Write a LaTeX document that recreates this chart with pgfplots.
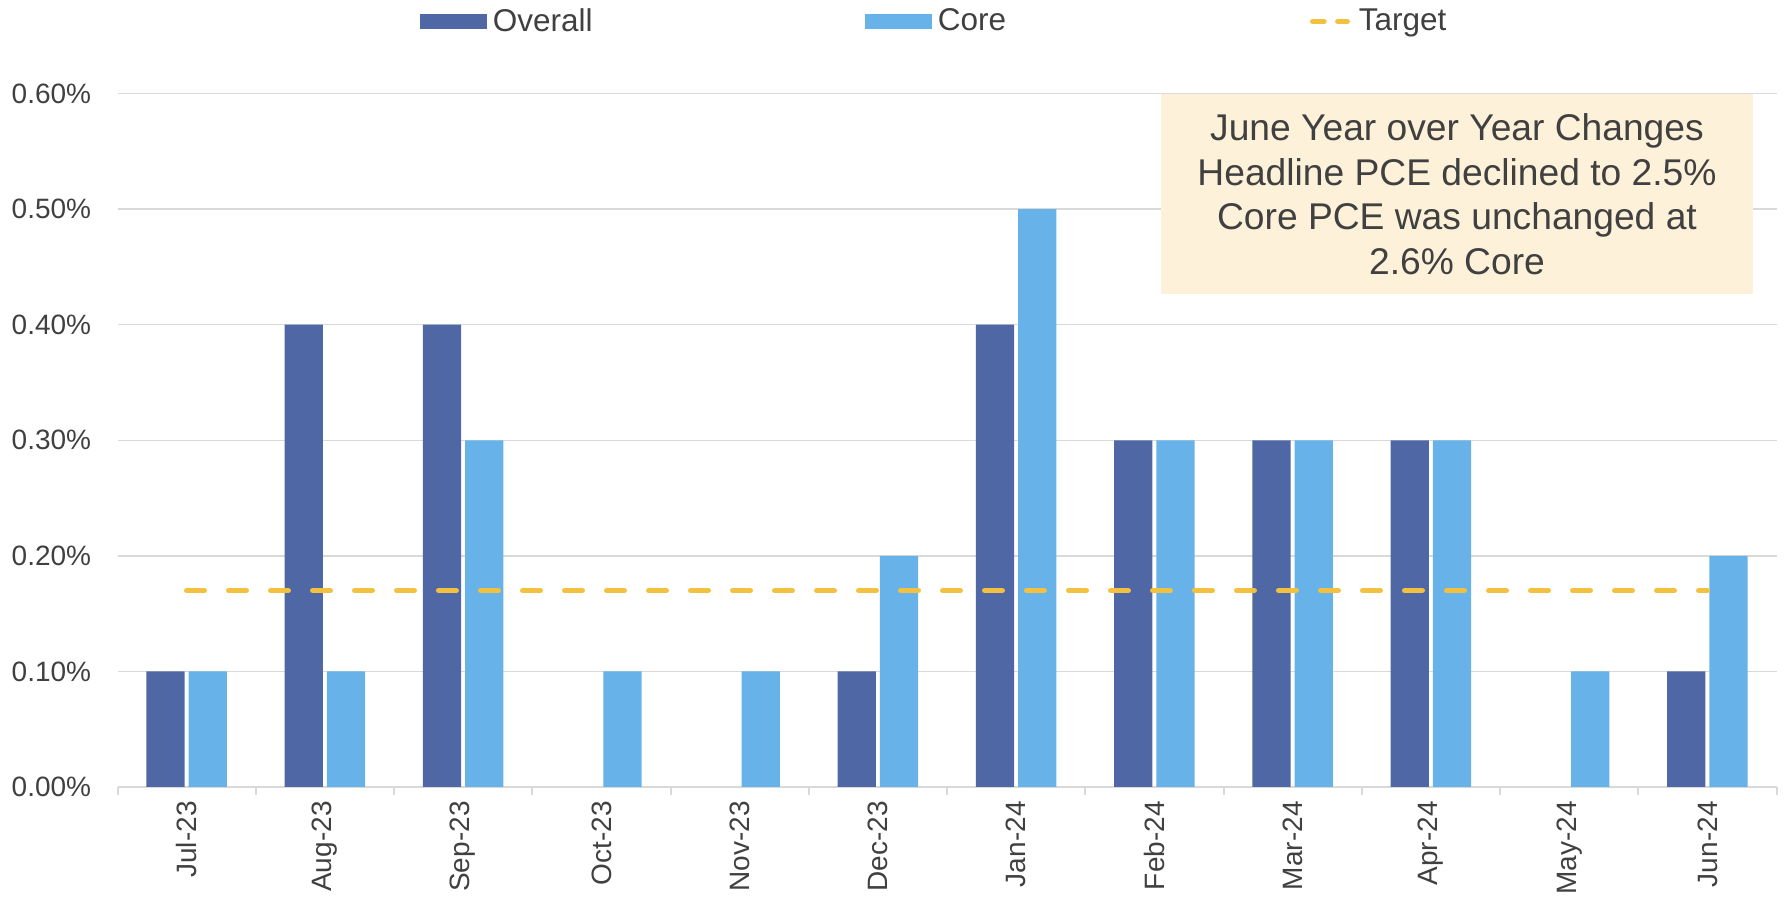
\documentclass[border=0pt]{standalone}
\usepackage{pgfplots}
\pgfplotsset{compat=1.18}
\usepackage{fontspec}
\setmainfont{Liberation Sans}
\definecolor{overall}{HTML}{4F67A5}
\definecolor{core}{HTML}{67B2E8}
\definecolor{target}{HTML}{F2C13F}
\definecolor{boxfill}{HTML}{FDF2D9}
\definecolor{txt}{HTML}{404040}
\definecolor{gridc}{HTML}{D9D9D9}
\begin{document}
\begin{tikzpicture}
\path[use as bounding box] (0,0) rectangle (894.5pt,448.5pt);
\begin{axis}[
  at={(58.75pt,55pt)}, anchor=south west, scale only axis,
  width=829.5pt, height=346.7pt,
  xmin=-0.5, xmax=11.5, ymin=0, ymax=0.6,
  axis x line*=bottom, axis y line*=left,
  y axis line style={draw=none},
  x axis line style={draw=gridc, line width=1pt},
  xtick={0,1,2,3,4,5,6,7,8,9,10,11},
  xticklabels={Jul-23,Aug-23,Sep-23,Oct-23,Nov-23,Dec-23,Jan-24,Feb-24,Mar-24,Apr-24,May-24,Jun-24},
  minor xtick={-0.5,0.5,1.5,2.5,3.5,4.5,5.5,6.5,7.5,8.5,9.5,10.5,11.5},
  major tick length=0pt, minor tick length=4pt, tick align=outside,
  minor tick style={draw=gridc, line width=1pt},
  ytick={0,0.1,0.2,0.3,0.4,0.5,0.6},
  yticklabel={\pgfmathprintnumber[fixed,fixed zerofill,precision=2,assume math mode=true]{\tick}\%},
  ymajorgrids, grid style={draw=gridc, line width=0.7pt},
  tick label style={font=\fontsize{14}{16}\selectfont, text=txt},
  yticklabel style={anchor=east, inner sep=0pt, xshift=-13pt},
  xticklabel style={rotate=90, anchor=east, inner xsep=7pt, inner ysep=0pt},
  legend columns=3,
  legend style={draw=none, fill=none, at={(0.1823,1.104)}, anchor=west,
    inner sep=0pt, outer sep=0pt, font=\fontsize{15.75}{18}\selectfont, text=txt,
    column sep=0pt, nodes={inner xsep=3pt, inner ysep=0pt}},
]
\addplot[ybar, bar width=0.277, bar shift=-0.153, fill=overall, draw=none,
  legend image code/.code={\fill[overall] (0pt,-3.75pt) rectangle (33.5pt,3.75pt);}]
  coordinates {(0,0.1) (1,0.4) (2,0.4) (5,0.1) (6,0.4) (7,0.3) (8,0.3) (9,0.3) (11,0.1)};
\addplot[ybar, bar width=0.277, bar shift=0.153, fill=core, draw=none,
  legend image code/.code={\fill[core] (0pt,-3.75pt) rectangle (33.5pt,3.75pt);}]
  coordinates {(0,0.1) (1,0.1) (2,0.3) (3,0.1) (4,0.1) (5,0.2) (6,0.5) (7,0.3) (8,0.3) (9,0.3) (10,0.1) (11,0.2)};
\addplot[target, line width=2.65pt, line cap=round, dash pattern=on 8.85pt off 12.15pt,
  legend image code/.code={\draw[target, line width=2.8pt, line cap=round, dash pattern=on 5.6pt off 7pt] (1.4pt,0pt) -- (18.6pt,0pt);}]
  coordinates {(0,0.17) (11,0.17)};
\legend{\makebox[183pt][l]{Overall},\makebox[183pt][l]{Core},\hspace{1.5pt}Target}
\node[fill=boxfill, minimum width=296pt, minimum height=100pt, inner sep=0pt, align=center,
  text=txt, font=\fontsize{18.6}{22.3}\selectfont] at (axis cs:9.189,0.5131)
  {June Year over Year Changes\\Headline PCE declined to 2.5\%\\Core PCE was unchanged at\\2.6\% Core};
\end{axis}
\end{tikzpicture}
\end{document}
